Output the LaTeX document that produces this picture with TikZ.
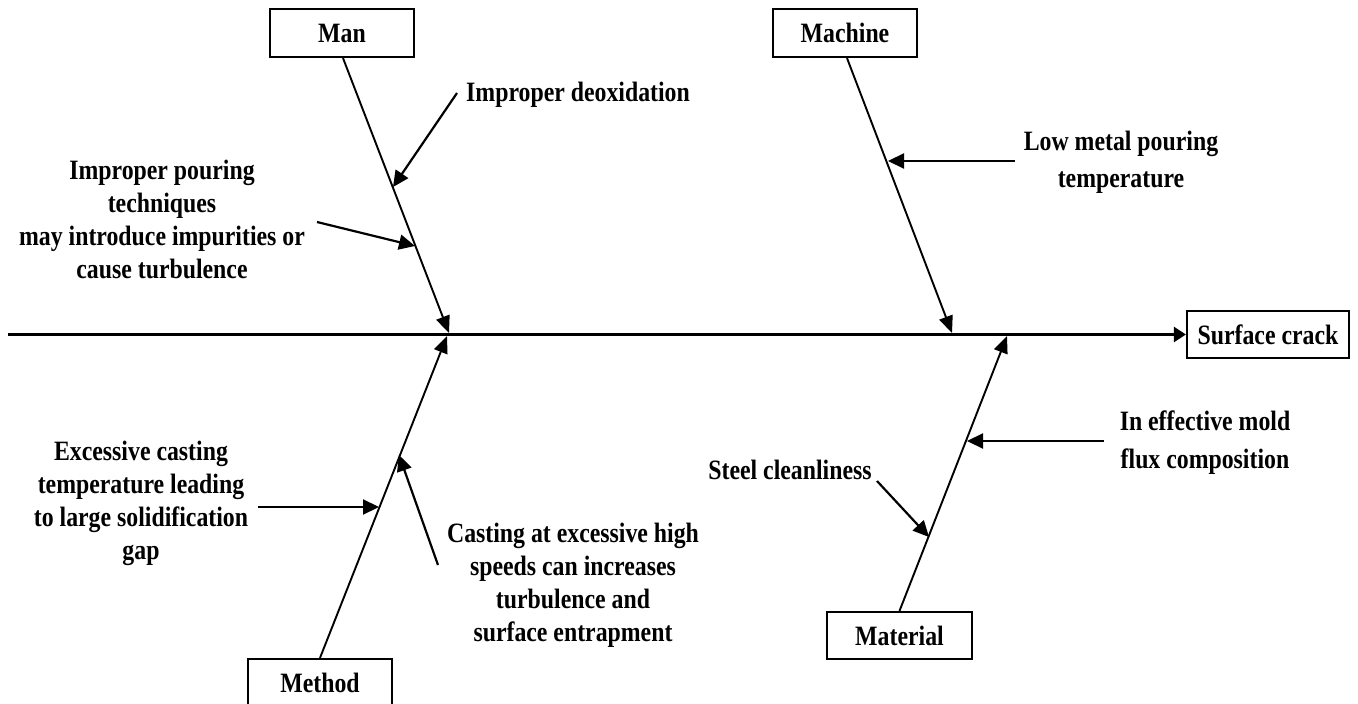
\documentclass[tikz,border=0pt]{standalone}
\usepackage{fontspec}
\newfontfamily\lblfont{Liberation Serif}[FakeStretch=0.85]
\usetikzlibrary{arrows.meta}
\newcommand{\lbl}{\lblfont\bfseries\fontsize{28}{33}\selectfont}
\begin{document}
\begin{tikzpicture}[x=1pt,y=-1pt,
  lbl/.style={font=\lbl, align=center, inner sep=0pt},
  catbox/.style={draw, line width=2.2pt, minimum width=144pt, minimum height=48pt, inner sep=0pt, font=\lbl},
  spine/.style={line width=2.4pt, -{Triangle[length=12pt,width=15pt]}},
  bone/.style={line width=1.9pt, -{Triangle[length=17pt,width=14pt]}},
  cause/.style={line width=2.2pt, -{Triangle[length=16pt,width=15pt]}}
]
\useasboundingbox (0,0) rectangle (1358,704);

% effect and category boxes
\node[catbox, minimum width=162pt, minimum height=47pt] (effect) at (1268,334.5) {Surface crack};
\node[catbox] (man) at (342,33) {Man};
\node[catbox] (machine) at (845,33) {Machine};
\node[catbox, minimum width=145pt, minimum height=47pt] (material) at (899.5,635.5) {Material};
\node[catbox] (method) at (320,683) {Method};

% spine
\coordinate (tail) at (8,334.5);
\draw[spine] (tail) -- (effect.west);

% joints on the spine
\coordinate (manj) at (449,333);
\coordinate (methj) at (447,336);
\coordinate (machj) at (952,333);
\coordinate (matj) at (1007,336);

% main bones
\draw[bone] (man.south -| 343,0) -- (manj);
\draw[bone] (machine.south -| 847,0) -- (machj);
\draw[bone] (method.north) -- (methj);
\draw[bone] (material.north) -- (matj);

% cause labels
\node[lbl, anchor=west] (deox) at (466,95) {Improper deoxidation};
\node[lbl] (pour) at (162,219) {Improper pouring\\techniques\\may introduce impurities or\\cause turbulence};
\node[lbl, font=\lbl\fontsize{28}{37}\selectfont] (lowtemp) at (1121,162) {Low metal pouring\\temperature};
\node[lbl] (excess) at (141,503) {Excessive casting\\temperature leading\\to large solidification\\gap};
\node[lbl] (speed) at (573,585) {Casting at excessive high\\speeds can increases\\turbulence and\\surface entrapment};
\node[lbl, font=\lbl\fontsize{28}{38}\selectfont] (flux) at (1205,443) {In effective mold\\flux composition};
\node[lbl] (clean) at (790,470) {Steel cleanliness};

% cause arrow start and end points
\coordinate (deoxs) at (457,93);   \coordinate (deoxe) at (393,187);
\coordinate (pours) at (317,222);  \coordinate (poure) at (415,246);
\coordinate (lows) at (1015,161);  \coordinate (lowe) at (888,161);
\coordinate (excs) at (258,507);   \coordinate (exce) at (379,507);
\coordinate (spds) at (438,565);   \coordinate (spde) at (399,455);
\coordinate (fluxs) at (1104,441); \coordinate (fluxe) at (967,441);
\coordinate (clns) at (877,481);   \coordinate (clne) at (929,537);

\draw[cause] (deoxs) -- (deoxe);
\draw[cause] (pours) -- (poure);
\draw[cause] (lows) -- (lowe);
\draw[cause] (excs) -- (exce);
\draw[cause] (spds) -- (spde);
\draw[cause] (fluxs) -- (fluxe);
\draw[cause] (clns) -- (clne);
\end{tikzpicture}
\end{document}
